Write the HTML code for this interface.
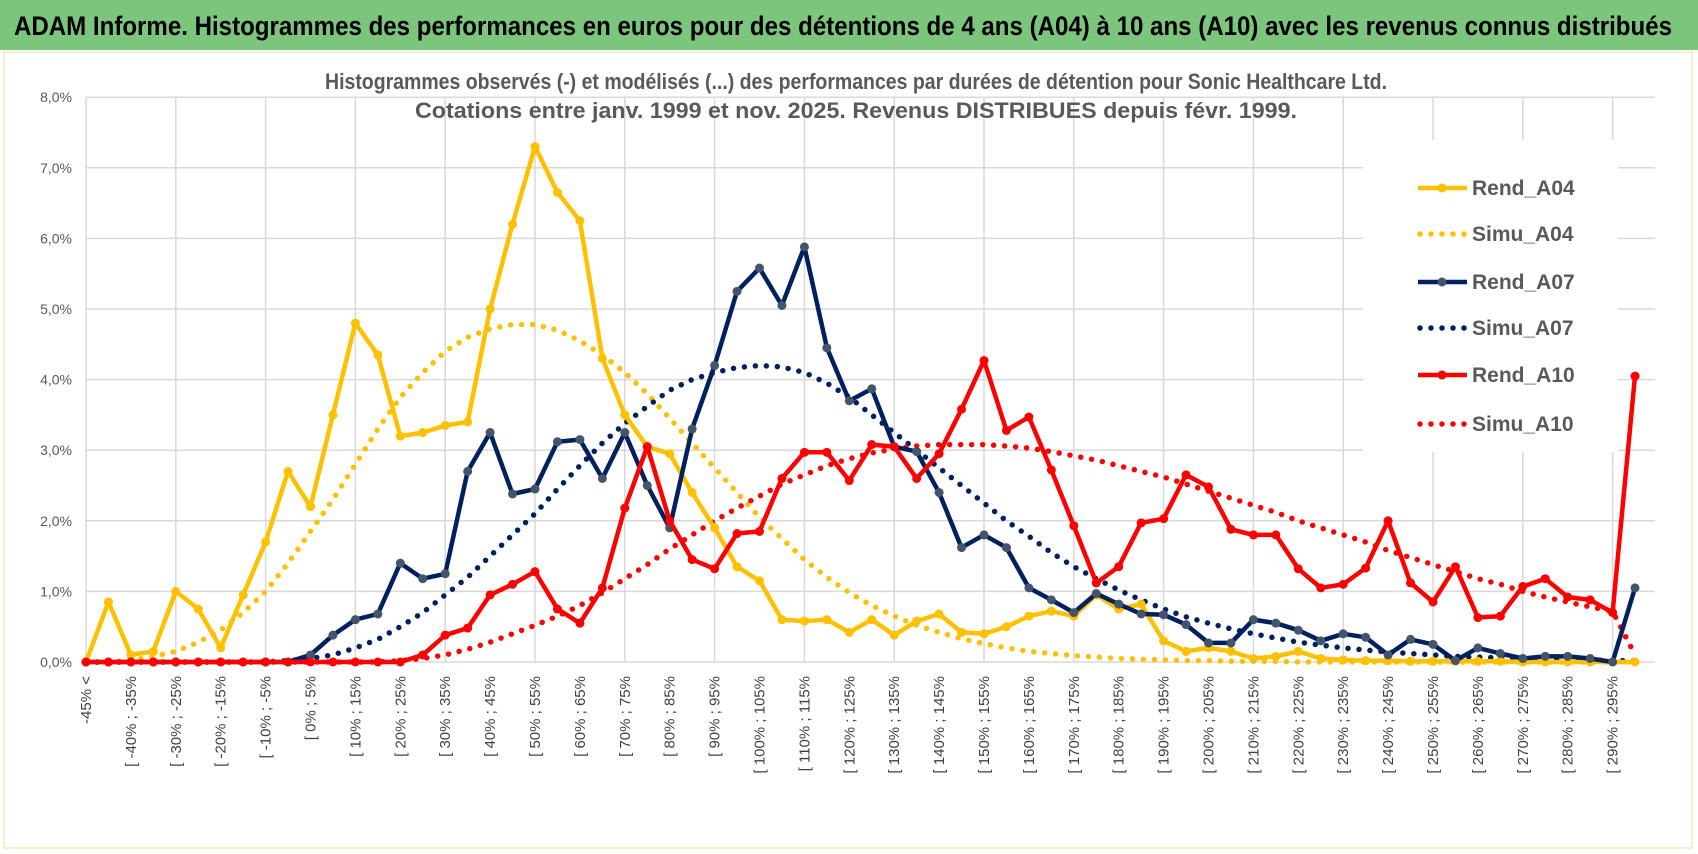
<!DOCTYPE html>
<html><head><meta charset="utf-8"><style>
html,body{margin:0;padding:0;background:#fff;}
svg{display:block;font-family:"Liberation Sans",sans-serif;}
</style></head><body>
<svg id="chart" width="1698" height="854" viewBox="0 0 1698 854" xmlns="http://www.w3.org/2000/svg">
<rect x="0" y="0" width="1698" height="854" fill="#fff"/>
<rect x="0" y="0" width="1698" height="50" fill="#7cc57c"/>
<text x="14" y="35" font-size="27" font-weight="bold" fill="#000" textLength="1658" lengthAdjust="spacingAndGlyphs">ADAM Informe. Histogrammes des performances en euros pour des détentions de 4 ans (A04) à 10 ans (A10) avec les revenus connus distribués</text>
<rect x="4" y="52" width="1688" height="796" fill="none" stroke="#f3efcf" stroke-width="2"/>
<g id="grid"></g>
<text x="325" y="89" font-size="22" font-weight="bold" fill="#595959" textLength="1062" lengthAdjust="spacingAndGlyphs">Histogrammes observés (-) et modélisés (...) des performances par durées de détention pour Sonic Healthcare Ltd.</text>
<text x="415" y="118" font-size="22" font-weight="bold" fill="#595959" textLength="882" lengthAdjust="spacingAndGlyphs">Cotations entre janv. 1999 et nov. 2025. Revenus DISTRIBUES depuis févr. 1999.</text>
<g id="yaxis"></g>
<g id="xaxis"></g>
<g id="legendbg"></g>
<g id="series"></g>
<g id="legend"></g>
</svg>
<script>
const yTicks = [0,1,2,3,4,5,6,7,8];
const rendA04 = [0,0.85,0.1,0.15,1.0,0.75,0.2,0.95,1.7,2.7,2.2,3.5,4.8,4.35,3.2,3.25,3.35,3.4,5.0,6.2,7.3,6.65,6.25,4.3,3.5,3.05,2.95,2.4,1.9,1.35,1.15,0.6,0.58,0.6,0.42,0.6,0.38,0.58,0.68,0.42,0.4,0.5,0.65,0.72,0.65,0.95,0.75,0.82,0.3,0.15,0.2,0.15,0.05,0.08,0.15,0.05,0.03,0.02,0.02,0.01,0.01,0.01,0.01,0.01,0,0,0,0,0,0];
const simuA04 = [0,0,0.02,0.08,0.15,0.28,0.45,0.7,1.0,1.4,1.85,2.3,2.8,3.3,3.75,4.1,4.4,4.6,4.72,4.78,4.78,4.7,4.55,4.35,4.1,3.8,3.45,3.1,2.75,2.4,2.05,1.75,1.45,1.2,0.98,0.8,0.65,0.52,0.42,0.33,0.26,0.2,0.15,0.12,0.09,0.07,0.05,0.04,0.03,0.02,0.02,0.01,0.01,0.01,0,0,0,0,0,0,0,0,0,0,0,0,0,0,0,0];
const rendA07 = [0,0,0,0,0,0,0,0,0,0,0.1,0.38,0.6,0.68,1.4,1.18,1.25,2.7,3.25,2.38,2.45,3.12,3.15,2.6,3.25,2.5,1.9,3.3,4.2,5.25,5.58,5.05,5.88,4.45,3.7,3.87,3.05,2.98,2.4,1.62,1.8,1.62,1.05,0.88,0.7,0.97,0.82,0.68,0.67,0.53,0.27,0.27,0.6,0.55,0.45,0.3,0.4,0.35,0.1,0.32,0.25,0.02,0.2,0.12,0.05,0.08,0.08,0.05,0,1.05];
const simuA07 = [0,0,0,0,0,0,0,0,0,0.02,0.05,0.1,0.2,0.32,0.5,0.7,0.95,1.2,1.5,1.8,2.1,2.45,2.78,3.1,3.38,3.62,3.85,4.0,4.1,4.17,4.2,4.18,4.1,3.95,3.75,3.5,3.25,3.0,2.75,2.5,2.25,2.0,1.78,1.55,1.35,1.18,1.02,0.88,0.75,0.64,0.55,0.47,0.4,0.34,0.28,0.24,0.2,0.17,0.14,0.12,0.1,0.08,0.07,0.06,0.05,0.04,0.03,0.03,0.02,0.02];
const rendA10 = [0,0,0,0,0,0,0,0,0,0,0,0,0,0,0,0.1,0.38,0.48,0.95,1.1,1.28,0.75,0.55,1.05,2.18,3.05,2.0,1.45,1.32,1.82,1.85,2.6,2.97,2.97,2.57,3.08,3.05,2.6,2.95,3.58,4.27,3.28,3.47,2.72,1.93,1.12,1.35,1.97,2.03,2.65,2.48,1.88,1.8,1.8,1.32,1.05,1.1,1.33,2.0,1.12,0.85,1.35,0.63,0.65,1.07,1.18,0.92,0.88,0.7,4.05];
const simuA10 = [0,0,0,0,0,0,0,0,0,0,0,0,0,0,0.02,0.05,0.1,0.18,0.28,0.4,0.52,0.65,0.8,0.98,1.18,1.38,1.6,1.8,2.0,2.18,2.35,2.52,2.65,2.78,2.88,2.96,3.02,3.06,3.08,3.08,3.08,3.06,3.03,2.98,2.92,2.86,2.78,2.7,2.62,2.52,2.42,2.32,2.22,2.12,2.0,1.9,1.8,1.7,1.58,1.48,1.38,1.28,1.18,1.1,1.0,0.92,0.85,0.78,0.72,0.1];
const seriesNames = ["Rend_A04","Simu_A04","Rend_A07","Simu_A07","Rend_A10","Simu_A10"];

const NS="http://www.w3.org/2000/svg";
const N = rendA04.length;
function catLabel(i){ if(i===0) return "-45% <"; const lo=-45+(i-1)*5; return "[ "+lo+"% ; "+(lo+5)+"%"; }
const X0=86, DX=22.45, Y0=662, DY=70.6;
function xs(i){return X0+i*DX;}
function ys(v){return Y0-v*DY;}
function mk(tag,attrs,parent){const e=document.createElementNS(NS,tag);for(const k in attrs)e.setAttribute(k,attrs[k]);parent.appendChild(e);return e;}

const grid=document.getElementById('grid');
yTicks.forEach(t=>{
  const l=mk('line',{x1:X0,x2:1655,y1:ys(t),y2:ys(t),stroke:'#d9d9d9','stroke-width':1.5},grid);
  
  
});
for(let i=0;i<N;i+=4){
  const l=mk('line',{x1:xs(i),x2:xs(i),y1:ys(8),y2:Y0,stroke:'#d9d9d9','stroke-width':1.5},grid);
  
  
}
const ya=document.getElementById('yaxis');
yTicks.forEach(t=>{
  const tx=mk('text',{x:72,y:ys(t)+5,'font-size':14,fill:'#595959','text-anchor':'end'},ya);
  tx.textContent=t.toFixed(1).replace('.',',')+'%';
  
  
});
const xa=document.getElementById('xaxis');
for(let i=0;i<N;i+=2){
  const tx=mk('text',{transform:`translate(${xs(i)+5},676) rotate(-90)`,'font-size':15,fill:'#404040','text-anchor':'end'},xa);
  tx.textContent=catLabel(i);
  
  
}
const lbg=document.getElementById('legendbg');
mk('rect',{x:1363,y:140,width:255,height:312,fill:'#fff'},lbg);

const sg=document.getElementById('series');
function pts(arr){return arr.map((v,i)=>xs(i).toFixed(1)+','+ys(v).toFixed(1)).join(' ');}
function solid(arr,col,mcol,name){
  const g=mk('g',{},sg);
  
  
  mk('polyline',{points:pts(arr),fill:'none',stroke:col,'stroke-width':4.5,'stroke-linejoin':'round'},g);
  arr.forEach((v,i)=>{
    const c=mk('circle',{cx:xs(i),cy:ys(v),r:4.5,fill:mcol},g);
    
    
  });
}
function dotted(arr,col,name){
  const p=mk('polyline',{points:pts(arr),fill:'none',stroke:col,'stroke-width':5.5,'stroke-linecap':'round','stroke-dasharray':'0 11'},sg);
  
  
}
dotted(simuA04,'#FFC000','simu-a04-line');
dotted(simuA07,'#002060','simu-a07-line');
dotted(simuA10,'#FF0000','simu-a10-line');
solid(rendA04,'#FFC000','#FFC000','rend-a04-line');
solid(rendA07,'#002060','#44546A','rend-a07-line');
solid(rendA10,'#FF0000','#FF0000','rend-a10-line');

const lg=document.getElementById('legend');
const cols=['#FFC000','#FFC000','#002060','#002060','#FF0000','#FF0000'];
const mcols=['#FFC000','#FFC000','#44546A','#44546A','#FF0000','#FF0000'];
const ly=[195,241,289,335,382,431];
seriesNames.forEach((n,k)=>{
  const g=mk('g',{},lg);
  
  
  const y=ly[k]-7;
  if(k%2===0){
    mk('line',{x1:1418,x2:1467,y1:y,y2:y,stroke:cols[k],'stroke-width':4.5},g);
    mk('circle',{cx:1442,cy:y,r:4.5,fill:mcols[k]},g);
  } else {
    mk('line',{x1:1420,x2:1467,y1:y,y2:y,stroke:cols[k],'stroke-width':5.5,'stroke-linecap':'round','stroke-dasharray':'0 11'},g);
  }
  const t=mk('text',{x:1472,y:ly[k],'font-size':21,'font-weight':'bold',fill:'#595959'},g);
  t.textContent=n;
});
</script>
</body></html>
